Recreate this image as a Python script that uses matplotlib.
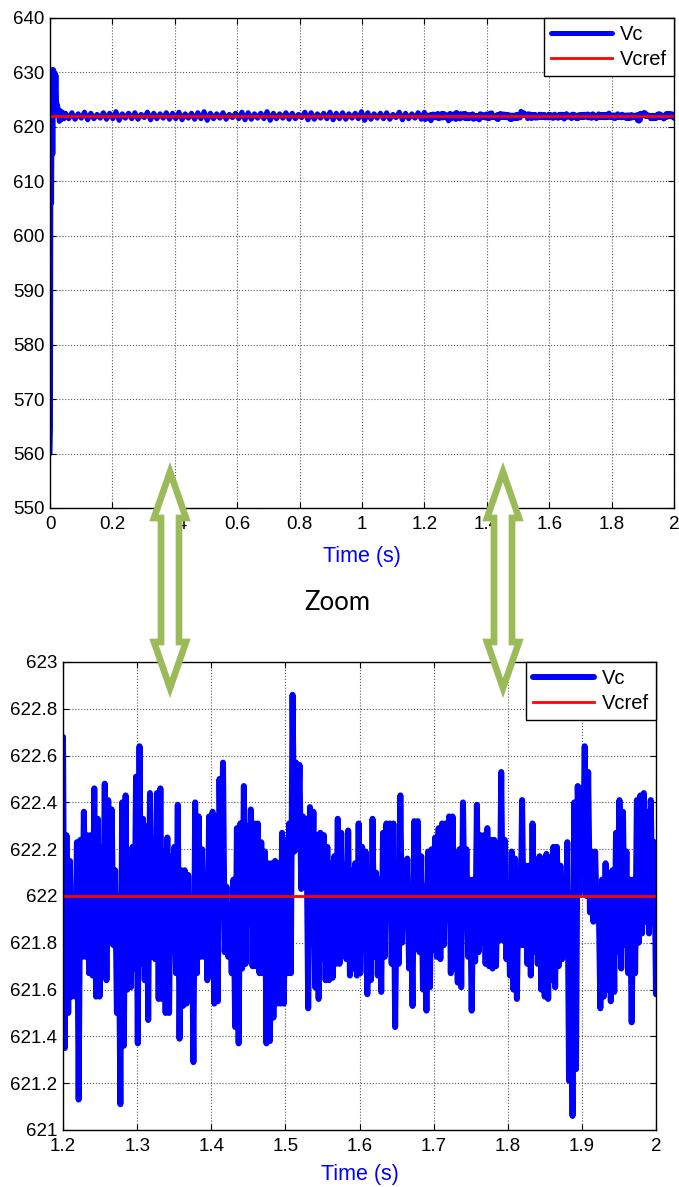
import numpy as np
import matplotlib
matplotlib.use("Agg")
import matplotlib.pyplot as plt
from matplotlib.patches import Polygon
from matplotlib.ticker import FuncFormatter
import matplotlib.transforms as mtransforms

plt.rcParams['font.family'] = ['Liberation Sans', 'DejaVu Sans']

# --- data ---
# start-up transient (s, V)
t_start = [0.0, 0.0015, 0.003, 0.005, 0.007, 0.009, 0.011, 0.013, 0.015, 0.017,
           0.019, 0.021, 0.024, 0.027, 0.030, 0.033, 0.036, 0.040, 0.045]
vc_start = [560.0, 565.0, 630.0, 606.0, 630.5, 615.0, 630.5, 622.0, 630.0, 625.0,
            629.5, 624.5, 624.0, 622.8, 621.0, 623.0, 621.3, 622.7, 621.5]

# steady state 0.05 .. 1.19 s : alternating peaks / troughs
mid_hi = [622.5, 622.6, 622.4, 622.7, 622.5, 622.3, 622.6, 622.5, 622.8, 622.4,
          622.5, 622.6, 622.3, 622.7, 622.5, 622.4, 622.6, 622.5, 622.7, 622.4,
          622.5, 622.6, 622.8, 622.5, 622.4, 622.6, 622.3, 622.5, 622.7, 622.6,
          622.4, 622.5, 622.8, 622.5, 622.4, 622.6, 622.5, 622.3, 622.7, 622.6,
          622.4, 622.5, 622.7, 622.5, 622.6, 622.4, 622.5, 622.8, 622.6, 622.4,
          622.5, 622.6, 622.3, 622.7, 622.5, 622.4, 622.6]
mid_lo = [621.5, 621.4, 621.6, 621.3, 621.5, 621.6, 621.4, 621.5, 621.2, 621.6,
          621.5, 621.4, 621.7, 621.3, 621.5, 621.6, 621.4, 621.5, 621.3, 621.6,
          621.4, 621.5, 621.2, 621.5, 621.6, 621.4, 621.7, 621.5, 621.3, 621.4,
          621.6, 621.5, 621.2, 621.5, 621.6, 621.4, 621.5, 621.7, 621.3, 621.4,
          621.6, 621.5, 621.3, 621.5, 621.4, 621.6, 621.5, 621.2, 621.4, 621.6,
          621.5, 621.4, 621.7, 621.3, 621.5, 621.6, 621.4]

# zoomed window 1.2 .. 2 s : successive peaks (hi) and troughs (lo)
zoom_hi = [622.68, 622.26, 622.15, 622.00, 622.23, 622.24, 622.36, 622.26, 622.26, 622.46,
           622.33, 622.21, 622.48, 622.41, 622.37, 622.11, 622.00, 622.40, 622.43, 622.13,
           622.21, 622.51, 622.64, 622.33, 622.30, 622.44, 622.24, 622.44,
           622.46, 622.19, 622.25, 622.17, 622.21, 622.39, 622.11, 622.11, 622.09, 621.99,
           622.40, 622.34, 622.20, 622.07, 622.34, 622.36, 622.34, 622.50, 622.57, 622.04,
           621.96, 622.07, 622.29, 622.31, 622.47, 622.30, 622.37, 622.31,
           622.31, 622.23, 622.19, 622.14, 622.14, 622.15, 622.14, 622.27, 622.24, 622.31,
           622.86, 622.57, 622.56, 622.34, 622.33, 622.38, 622.36, 622.26, 622.27, 622.26,
           622.21, 622.14, 622.17, 622.33, 622.27, 622.13, 622.28, 622.11,
           622.14, 622.31, 622.21, 622.19, 622.07, 622.33, 622.10, 622.07, 622.27, 622.31,
           622.31, 622.31, 622.11, 622.43, 622.13, 622.16, 622.04, 622.32, 622.32, 622.17,
           622.04, 622.19, 622.20, 622.25, 622.29, 622.31, 622.31, 622.34,
           622.34, 622.07, 622.20, 622.40, 622.20, 622.07, 622.07, 622.39, 622.26, 622.26,
           622.29, 622.24, 622.24, 622.07, 622.53, 622.24, 622.04, 622.19, 622.16, 622.07,
           622.41, 622.13, 622.13, 622.31, 622.13, 622.17, 622.16, 622.18, 622.16, 622.21,
           622.21, 622.13, 622.07, 622.23, 622.01, 622.40, 622.47, 622.46, 622.64, 622.53,
           622.19, 622.19, 622.01, 622.07, 622.14, 622.10, 622.11, 622.27, 622.41, 622.36,
           622.19, 622.07, 622.07, 622.41, 622.43, 622.44, 622.36, 622.41, 622.23]
zoom_lo = [621.35, 621.50, 621.57, 621.57, 621.13, 621.74, 621.74, 621.67, 621.66, 621.57,
           621.57, 621.70, 621.64, 621.80, 621.79, 621.50, 621.11, 621.36, 621.60, 621.61,
           621.69, 621.37, 621.71, 621.64, 621.47, 621.74, 621.73, 621.56,
           621.56, 621.50, 621.50, 621.81, 621.67, 621.39, 621.53, 621.54, 621.64, 621.29,
           621.67, 621.74, 621.74, 621.64, 621.66, 621.54, 621.55, 621.94, 621.76, 621.74,
           621.67, 621.44, 621.37, 621.69, 621.71, 621.90, 621.70, 621.70,
           621.67, 621.67, 621.37, 621.38, 621.48, 621.54, 621.54, 621.54, 621.67, 621.67,
           622.19, 622.20, 622.03, 622.04, 621.52, 621.87, 621.61, 621.56, 621.73, 621.64,
           621.64, 621.65, 621.71, 621.71, 621.79, 621.73, 621.66, 621.69,
           621.66, 621.67, 621.77, 621.58, 621.64, 621.74, 621.66, 621.59, 621.74, 621.90,
           621.71, 621.44, 621.71, 621.80, 621.90, 621.69, 621.53, 621.79, 621.76, 621.60,
           621.51, 621.61, 621.77, 621.74, 621.73, 621.79, 621.90, 621.67,
           621.69, 621.63, 621.61, 621.87, 621.74, 621.51, 621.72, 621.76, 621.80, 621.71,
           621.70, 621.69, 621.70, 621.81, 621.81, 621.73, 621.66, 621.60, 621.56, 621.79,
           621.79, 621.71, 621.66, 621.76, 621.71, 621.60, 621.57, 621.56, 621.64, 621.61,
           621.70, 621.73, 621.83, 621.21, 621.06, 621.26, 622.01, 622.10, 622.00, 621.93,
           621.89, 621.90, 621.52, 621.57, 621.60, 621.55, 621.59, 621.76, 621.69, 621.79,
           621.67, 621.46, 621.67, 621.80, 621.84, 621.89, 621.84, 621.89, 621.58]

vc_ref = 622.0

# --- build the time series ---
vc_mid = np.column_stack([mid_hi, mid_lo]).ravel()
vc_zoom = np.column_stack([zoom_hi, zoom_lo]).ravel()
t_mid = np.linspace(0.05, 1.19, len(vc_mid))
t_zoom = np.linspace(1.2, 2.0, len(vc_zoom))
t = np.concatenate([t_start, t_mid, t_zoom])
vc = np.concatenate([vc_start, vc_mid, vc_zoom])

W, H = 679, 1187
fig = plt.figure(figsize=(W / 100, H / 100), dpi=100)

fmt = FuncFormatter(lambda v, p: '%g' % round(v, 3))
blue = '#0000FF'
red = '#FF0000'


def style(ax, labelpad):
    ax.grid(True, ls=':', color='0.35', lw=0.8)
    ax.tick_params(direction='in', top=True, right=True, length=4, labelsize=13.5, width=0.8)
    ax.tick_params(axis='y', pad=4)
    ax.tick_params(axis='x', pad=6)
    ax.xaxis.set_major_formatter(fmt)
    ax.yaxis.set_major_formatter(fmt)
    for s in ax.spines.values():
        s.set_linewidth(1.0)
    ax.set_xlabel('Time (s)', color=blue, fontsize=15.5, labelpad=labelpad)
    leg = ax.legend(loc='upper right', fontsize=14.5, handlelength=3.0, handletextpad=0.4,
                    borderpad=0.35, labelspacing=0.3, borderaxespad=0, fancybox=False,
                    edgecolor='black', framealpha=1)
    leg.get_frame().set_linewidth(1.0)


# top panel: full run
ax1 = fig.add_axes([50 / W, 1 - 508 / H, 624 / W, 490 / H])
ax1.plot(t, vc, color=blue, lw=3.6, solid_joinstyle='round', solid_capstyle='round', label='Vc')
ax1.plot([0, 2], [vc_ref, vc_ref], color=red, lw=2, label='Vcref')
ax1.set_xlim(0, 2)
ax1.set_ylim(550, 640)
ax1.set_xticks(np.arange(0, 2.01, 0.2))
ax1.set_yticks(np.arange(550, 641, 10))
style(ax1, 9)

# bottom panel: zoom 1.2 .. 2 s
ax2 = fig.add_axes([63 / W, 1 - 1130 / H, 593 / W, 468 / H])
ax2.plot(t, vc, color=blue, lw=4.3, solid_joinstyle='round', solid_capstyle='round', label='Vc')
ax2.plot([1.2, 2], [vc_ref, vc_ref], color=red, lw=2, label='Vcref')
ax2.set_xlim(1.2, 2)
ax2.set_ylim(621, 623)
ax2.set_xticks(np.arange(1.2, 2.001, 0.1))
ax2.set_yticks(np.arange(621, 623.001, 0.2))
style(ax2, 6)

# hollow green double arrows + "Zoom" (pixel coords, y from top)
px = mtransforms.Affine2D().scale(1 / W, -1 / H).translate(0, 1) + fig.transFigure
green = '#9BBB59'


def darrow(xc, y0, y1, hw=16, sw=9, hl=46):
    pts = [(xc, y0), (xc + hw, y0 + hl), (xc + sw, y0 + hl), (xc + sw, y1 - hl),
           (xc + hw, y1 - hl), (xc, y1), (xc - hw, y1 - hl), (xc - sw, y1 - hl),
           (xc - sw, y0 + hl), (xc - hw, y0 + hl)]
    fig.patches.append(Polygon(pts, closed=True, transform=px, fc='white', ec=green,
                               lw=4.8, joinstyle='miter', zorder=10))


darrow(170, 472, 688)
darrow(503, 472, 688)
fig.text(337 / W, 1 - 603 / H, 'Zoom', fontsize=18.5, family=['Lato', 'DejaVu Sans'],
         ha='center', va='center')

fig.savefig('out.png', dpi=100)
